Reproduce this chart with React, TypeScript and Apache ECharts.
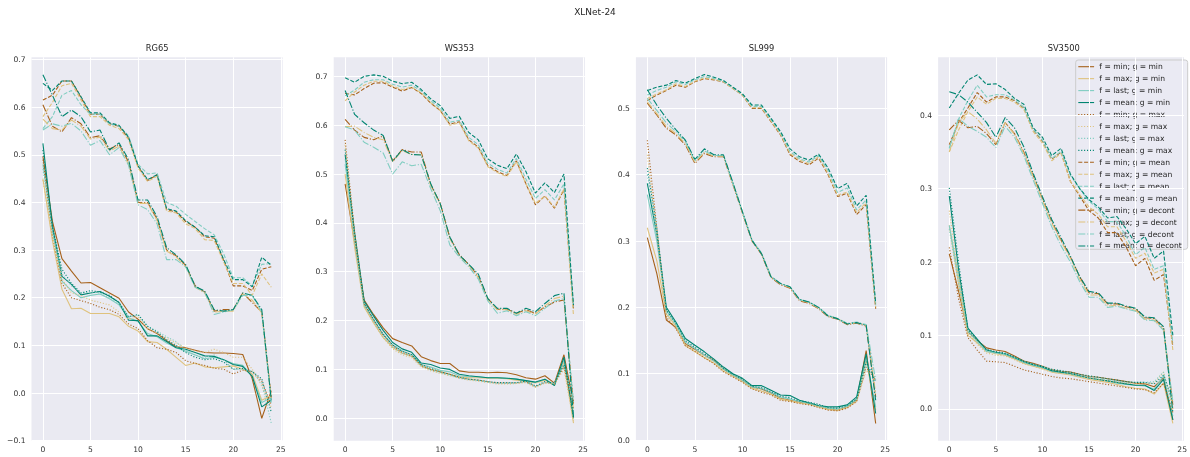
import React, { useEffect, useRef } from "react";
import * as echarts from "echarts";

const TITLE = "XLNet-24";
const PANELS = ["RG65", "WS353", "SL999", "SV3500"];
const LAYERS = [0, 1, 2, 3, 4, 5, 6, 7, 8, 9, 10, 11, 12, 13, 14, 15, 16, 17, 18, 19, 20, 21, 22, 23, 24];
const F_NAMES = ["min", "max", "last", "mean"];
const G_NAMES = ["min", "max", "mean", "decont"];
const X_TICKS = [0, 5, 10, 15, 20, 25];
const Y_TICKS = [
  [-0.1, 0, 0.1, 0.2, 0.3, 0.4, 0.5, 0.6, 0.7],
  [0, 0.1, 0.2, 0.3, 0.4, 0.5, 0.6, 0.7],
  [0, 0.1, 0.2, 0.3, 0.4, 0.5],
  [0, 0.1, 0.2, 0.3, 0.4],
];
const Y_RANGES = [
  [-0.1, 0.7046],
  [-0.046, 0.739],
  [-0.001, 0.577],
  [-0.0435, 0.479],
];

// each block: rows are f = min, max, last, mean
const RG65_G_MIN = [
  [0.497, 0.36, 0.282, 0.256, 0.231, 0.232, 0.221, 0.21, 0.199, 0.17, 0.155, 0.135, 0.125, 0.11, 0.097, 0.095, 0.09, 0.085, 0.084, 0.084, 0.083, 0.081, 0.03, -0.053, 0.005],
  [0.45, 0.32, 0.218, 0.177, 0.178, 0.167, 0.167, 0.167, 0.16, 0.14, 0.13, 0.108, 0.106, 0.092, 0.075, 0.058, 0.063, 0.055, 0.053, 0.055, 0.057, 0.05, 0.04, -0.015, -0.005],
  [0.48, 0.34, 0.235, 0.215, 0.2, 0.205, 0.208, 0.198, 0.185, 0.158, 0.15, 0.125, 0.118, 0.105, 0.095, 0.088, 0.08, 0.072, 0.075, 0.07, 0.062, 0.058, 0.035, -0.02, -0.01],
  [0.524, 0.35, 0.245, 0.228, 0.206, 0.21, 0.213, 0.203, 0.19, 0.153, 0.152, 0.12, 0.12, 0.108, 0.095, 0.092, 0.085, 0.078, 0.077, 0.07, 0.06, 0.056, 0.035, -0.029, -0.015],
];
const RG65_G_MAX = [
  [0.49, 0.33, 0.23, 0.2, 0.194, 0.188, 0.18, 0.175, 0.165, 0.145, 0.135, 0.11, 0.095, 0.092, 0.085, 0.068, 0.062, 0.058, 0.052, 0.05, 0.04, 0.048, 0.045, 0.025, -0.025],
  [0.447, 0.33, 0.24, 0.21, 0.205, 0.195, 0.19, 0.185, 0.17, 0.155, 0.16, 0.135, 0.125, 0.115, 0.105, 0.095, 0.088, 0.085, 0.092, 0.085, 0.075, 0.075, 0.05, 0.015, -0.03],
  [0.47, 0.34, 0.25, 0.225, 0.21, 0.212, 0.21, 0.2, 0.188, 0.16, 0.163, 0.14, 0.13, 0.118, 0.108, 0.09, 0.08, 0.075, 0.08, 0.07, 0.05, 0.05, 0.045, 0.02, -0.063],
  [0.51, 0.35, 0.26, 0.23, 0.21, 0.215, 0.212, 0.205, 0.19, 0.16, 0.165, 0.14, 0.128, 0.112, 0.1, 0.085, 0.075, 0.07, 0.072, 0.065, 0.05, 0.052, 0.045, 0.03, -0.04],
];
const RG65_G_MEAN = [
  [0.615, 0.625, 0.655, 0.655, 0.62, 0.585, 0.585, 0.565, 0.56, 0.535, 0.475, 0.446, 0.458, 0.385, 0.38, 0.36, 0.348, 0.328, 0.325, 0.278, 0.225, 0.225, 0.215, 0.26, 0.265],
  [0.58, 0.61, 0.645, 0.65, 0.615, 0.58, 0.58, 0.562, 0.555, 0.532, 0.472, 0.444, 0.455, 0.382, 0.378, 0.355, 0.345, 0.322, 0.32, 0.275, 0.23, 0.23, 0.205, 0.25, 0.222],
  [0.555, 0.58, 0.625, 0.635, 0.605, 0.585, 0.585, 0.565, 0.56, 0.54, 0.48, 0.46, 0.462, 0.4, 0.392, 0.375, 0.36, 0.345, 0.332, 0.292, 0.242, 0.242, 0.225, 0.27, 0.272],
  [0.65, 0.635, 0.655, 0.655, 0.622, 0.588, 0.588, 0.567, 0.562, 0.537, 0.477, 0.448, 0.458, 0.387, 0.382, 0.362, 0.348, 0.33, 0.328, 0.28, 0.238, 0.238, 0.223, 0.285, 0.268],
];
const RG65_G_DECONT = [
  [0.605, 0.56, 0.548, 0.578, 0.565, 0.536, 0.54, 0.512, 0.522, 0.485, 0.4, 0.4, 0.365, 0.3, 0.288, 0.268, 0.225, 0.212, 0.172, 0.175, 0.175, 0.21, 0.19, 0.17, -0.01],
  [0.575, 0.555, 0.552, 0.573, 0.56, 0.533, 0.537, 0.508, 0.518, 0.48, 0.398, 0.398, 0.362, 0.298, 0.286, 0.265, 0.222, 0.21, 0.17, 0.172, 0.172, 0.208, 0.195, 0.168, -0.012],
  [0.552, 0.565, 0.56, 0.566, 0.55, 0.52, 0.53, 0.5, 0.515, 0.478, 0.395, 0.385, 0.355, 0.28, 0.28, 0.265, 0.222, 0.212, 0.165, 0.17, 0.175, 0.205, 0.205, 0.17, -0.02],
  [0.668, 0.625, 0.58, 0.594, 0.58, 0.548, 0.552, 0.51, 0.525, 0.49, 0.405, 0.405, 0.37, 0.305, 0.29, 0.27, 0.224, 0.214, 0.175, 0.172, 0.175, 0.21, 0.205, 0.175, -0.015],
];

const WS353_G_MIN = [
  [0.48, 0.36, 0.242, 0.212, 0.185, 0.163, 0.155, 0.148, 0.126, 0.118, 0.112, 0.112, 0.097, 0.094, 0.094, 0.093, 0.094, 0.093, 0.089, 0.083, 0.08, 0.087, 0.072, 0.13, 0.03],
  [0.5, 0.35, 0.228, 0.195, 0.165, 0.145, 0.133, 0.127, 0.107, 0.1, 0.095, 0.09, 0.085, 0.083, 0.083, 0.082, 0.082, 0.081, 0.078, 0.076, 0.072, 0.078, 0.068, 0.115, -0.01],
  [0.52, 0.37, 0.232, 0.202, 0.172, 0.15, 0.138, 0.13, 0.11, 0.105, 0.098, 0.095, 0.087, 0.085, 0.085, 0.083, 0.083, 0.082, 0.08, 0.077, 0.073, 0.08, 0.068, 0.12, 0.01],
  [0.54, 0.38, 0.24, 0.209, 0.18, 0.155, 0.142, 0.135, 0.113, 0.11, 0.103, 0.1, 0.09, 0.087, 0.085, 0.083, 0.083, 0.082, 0.08, 0.077, 0.074, 0.08, 0.067, 0.125, 0.0],
];
const WS353_G_MAX = [
  [0.57, 0.38, 0.235, 0.2, 0.17, 0.148, 0.135, 0.128, 0.108, 0.1, 0.095, 0.09, 0.083, 0.08, 0.078, 0.075, 0.072, 0.072, 0.072, 0.075, 0.065, 0.073, 0.07, 0.105, 0.02],
  [0.56, 0.37, 0.23, 0.195, 0.165, 0.142, 0.13, 0.124, 0.105, 0.097, 0.092, 0.087, 0.082, 0.078, 0.076, 0.073, 0.07, 0.07, 0.071, 0.073, 0.063, 0.072, 0.07, 0.1, -0.005],
  [0.53, 0.36, 0.232, 0.198, 0.168, 0.146, 0.133, 0.127, 0.107, 0.099, 0.093, 0.088, 0.082, 0.079, 0.077, 0.074, 0.071, 0.071, 0.072, 0.074, 0.064, 0.073, 0.071, 0.108, 0.03],
  [0.55, 0.375, 0.236, 0.202, 0.172, 0.15, 0.137, 0.13, 0.11, 0.102, 0.095, 0.09, 0.084, 0.08, 0.078, 0.075, 0.073, 0.073, 0.073, 0.076, 0.066, 0.075, 0.072, 0.11, 0.04],
];
const WS353_G_MEAN = [
  [0.665, 0.662, 0.675, 0.686, 0.687, 0.678, 0.67, 0.677, 0.665, 0.645, 0.63, 0.602, 0.607, 0.57, 0.555, 0.517, 0.505, 0.497, 0.527, 0.48, 0.437, 0.455, 0.43, 0.468, 0.225],
  [0.65, 0.668, 0.682, 0.69, 0.69, 0.68, 0.673, 0.678, 0.666, 0.646, 0.63, 0.6, 0.605, 0.568, 0.553, 0.515, 0.503, 0.495, 0.525, 0.48, 0.44, 0.455, 0.432, 0.47, 0.21],
  [0.66, 0.672, 0.688, 0.693, 0.693, 0.684, 0.678, 0.682, 0.67, 0.65, 0.635, 0.606, 0.61, 0.575, 0.56, 0.522, 0.51, 0.502, 0.532, 0.49, 0.45, 0.468, 0.447, 0.48, 0.228],
  [0.697, 0.688, 0.7, 0.703, 0.7, 0.69, 0.685, 0.688, 0.673, 0.654, 0.64, 0.614, 0.618, 0.585, 0.57, 0.531, 0.518, 0.511, 0.541, 0.505, 0.461, 0.482, 0.462, 0.5, 0.232],
];
const WS353_G_DECONT = [
  [0.612, 0.59, 0.575, 0.57, 0.578, 0.527, 0.55, 0.545, 0.545, 0.478, 0.44, 0.37, 0.335, 0.315, 0.29, 0.245, 0.223, 0.223, 0.215, 0.222, 0.215, 0.228, 0.238, 0.242, 0.03],
  [0.597, 0.598, 0.585, 0.575, 0.57, 0.525, 0.548, 0.54, 0.54, 0.476, 0.438, 0.368, 0.333, 0.313, 0.288, 0.243, 0.222, 0.222, 0.213, 0.22, 0.213, 0.23, 0.245, 0.25, 0.015],
  [0.597, 0.59, 0.565, 0.555, 0.543, 0.5, 0.525, 0.517, 0.52, 0.47, 0.425, 0.355, 0.33, 0.31, 0.285, 0.24, 0.215, 0.22, 0.21, 0.218, 0.21, 0.225, 0.24, 0.245, 0.03],
  [0.671, 0.622, 0.605, 0.59, 0.579, 0.526, 0.55, 0.54, 0.539, 0.48, 0.439, 0.371, 0.334, 0.315, 0.295, 0.245, 0.225, 0.225, 0.215, 0.225, 0.218, 0.235, 0.251, 0.256, 0.002],
];

const SL999_G_MIN = [
  [0.305, 0.251, 0.181, 0.17, 0.145, 0.137, 0.128, 0.12, 0.107, 0.098, 0.09, 0.08, 0.077, 0.071, 0.063, 0.06, 0.057, 0.055, 0.051, 0.047, 0.045, 0.05, 0.06, 0.135, 0.025],
  [0.32, 0.27, 0.19, 0.172, 0.142, 0.133, 0.124, 0.116, 0.104, 0.096, 0.088, 0.078, 0.074, 0.069, 0.062, 0.059, 0.056, 0.054, 0.05, 0.046, 0.045, 0.049, 0.059, 0.12, 0.045],
  [0.37, 0.3, 0.195, 0.175, 0.148, 0.138, 0.128, 0.119, 0.107, 0.098, 0.09, 0.08, 0.078, 0.072, 0.065, 0.062, 0.058, 0.055, 0.051, 0.048, 0.047, 0.051, 0.062, 0.125, 0.05],
  [0.387, 0.31, 0.2, 0.178, 0.153, 0.143, 0.133, 0.122, 0.11, 0.1, 0.093, 0.082, 0.082, 0.075, 0.068, 0.067, 0.06, 0.056, 0.052, 0.05, 0.05, 0.053, 0.065, 0.13, 0.04],
];
const SL999_G_MAX = [
  [0.452, 0.32, 0.185, 0.168, 0.142, 0.134, 0.124, 0.115, 0.103, 0.095, 0.087, 0.077, 0.072, 0.068, 0.06, 0.058, 0.055, 0.053, 0.049, 0.045, 0.044, 0.048, 0.058, 0.11, 0.09],
  [0.43, 0.31, 0.188, 0.17, 0.144, 0.135, 0.126, 0.117, 0.105, 0.096, 0.088, 0.078, 0.074, 0.069, 0.061, 0.059, 0.056, 0.054, 0.05, 0.046, 0.045, 0.049, 0.058, 0.105, 0.095],
  [0.4, 0.31, 0.192, 0.173, 0.147, 0.138, 0.128, 0.119, 0.107, 0.098, 0.09, 0.08, 0.077, 0.071, 0.064, 0.062, 0.058, 0.056, 0.053, 0.048, 0.047, 0.051, 0.06, 0.115, 0.092],
  [0.41, 0.32, 0.196, 0.176, 0.15, 0.14, 0.13, 0.121, 0.108, 0.099, 0.092, 0.081, 0.079, 0.073, 0.066, 0.064, 0.059, 0.057, 0.054, 0.049, 0.048, 0.052, 0.062, 0.118, 0.088],
];
const SL999_G_MEAN = [
  [0.512, 0.52, 0.527, 0.535, 0.532, 0.54, 0.545, 0.543, 0.54, 0.53, 0.52, 0.5, 0.5, 0.48, 0.46, 0.43, 0.42, 0.415, 0.425, 0.4, 0.367, 0.372, 0.34, 0.355, 0.198],
  [0.515, 0.522, 0.528, 0.537, 0.533, 0.541, 0.546, 0.544, 0.54, 0.53, 0.52, 0.501, 0.501, 0.481, 0.461, 0.432, 0.422, 0.417, 0.427, 0.402, 0.369, 0.374, 0.343, 0.358, 0.2],
  [0.52, 0.527, 0.532, 0.54, 0.536, 0.543, 0.548, 0.545, 0.541, 0.531, 0.521, 0.503, 0.503, 0.483, 0.463, 0.435, 0.424, 0.419, 0.429, 0.406, 0.373, 0.38, 0.347, 0.362, 0.203],
  [0.527, 0.532, 0.535, 0.542, 0.538, 0.545, 0.551, 0.547, 0.542, 0.532, 0.522, 0.505, 0.505, 0.485, 0.465, 0.439, 0.427, 0.422, 0.431, 0.41, 0.379, 0.387, 0.353, 0.369, 0.206],
];
const SL999_G_DECONT = [
  [0.508, 0.49, 0.47, 0.46, 0.445, 0.417, 0.432, 0.427, 0.427, 0.385, 0.342, 0.3, 0.28, 0.245, 0.234, 0.229, 0.21, 0.206, 0.198, 0.186, 0.182, 0.174, 0.176, 0.172, 0.065],
  [0.51, 0.492, 0.473, 0.462, 0.447, 0.419, 0.434, 0.428, 0.428, 0.386, 0.343, 0.301, 0.281, 0.246, 0.235, 0.23, 0.211, 0.207, 0.199, 0.187, 0.183, 0.175, 0.177, 0.173, 0.07],
  [0.515, 0.497, 0.478, 0.465, 0.45, 0.421, 0.436, 0.429, 0.429, 0.387, 0.344, 0.302, 0.282, 0.247, 0.236, 0.231, 0.212, 0.208, 0.2, 0.188, 0.183, 0.176, 0.178, 0.174, 0.09],
  [0.528, 0.505, 0.485, 0.468, 0.452, 0.423, 0.439, 0.43, 0.43, 0.388, 0.344, 0.301, 0.281, 0.246, 0.236, 0.231, 0.212, 0.208, 0.2, 0.187, 0.183, 0.175, 0.177, 0.173, 0.06],
];

const SV3500_G_MIN = [
  [0.211, 0.16, 0.105, 0.093, 0.083, 0.08, 0.078, 0.072, 0.065, 0.062, 0.058, 0.053, 0.051, 0.05, 0.047, 0.044, 0.043, 0.041, 0.039, 0.037, 0.035, 0.034, 0.03, 0.042, -0.015],
  [0.25, 0.17, 0.1, 0.09, 0.078, 0.075, 0.073, 0.068, 0.062, 0.058, 0.055, 0.05, 0.048, 0.046, 0.043, 0.04, 0.038, 0.036, 0.033, 0.03, 0.028, 0.027, 0.02, 0.035, -0.02],
  [0.25, 0.18, 0.106, 0.092, 0.078, 0.076, 0.074, 0.069, 0.063, 0.059, 0.056, 0.051, 0.049, 0.047, 0.044, 0.042, 0.04, 0.038, 0.035, 0.033, 0.032, 0.031, 0.027, 0.045, -0.01],
  [0.29, 0.19, 0.11, 0.095, 0.08, 0.077, 0.075, 0.07, 0.064, 0.06, 0.057, 0.052, 0.05, 0.048, 0.045, 0.042, 0.04, 0.038, 0.036, 0.034, 0.032, 0.032, 0.025, 0.04, -0.015],
];
const SV3500_G_MAX = [
  [0.22, 0.15, 0.097, 0.08, 0.065, 0.064, 0.063, 0.058, 0.053, 0.05, 0.047, 0.044, 0.042, 0.041, 0.039, 0.037, 0.035, 0.033, 0.031, 0.029, 0.027, 0.026, 0.022, 0.035, -0.005],
  [0.27, 0.18, 0.103, 0.088, 0.076, 0.073, 0.072, 0.067, 0.061, 0.058, 0.054, 0.05, 0.048, 0.047, 0.044, 0.042, 0.04, 0.038, 0.036, 0.035, 0.034, 0.034, 0.035, 0.05, 0.0],
  [0.245, 0.17, 0.105, 0.091, 0.079, 0.076, 0.075, 0.07, 0.064, 0.06, 0.057, 0.053, 0.051, 0.049, 0.046, 0.044, 0.042, 0.04, 0.038, 0.036, 0.036, 0.036, 0.037, 0.05, 0.005],
  [0.301, 0.2, 0.108, 0.094, 0.081, 0.078, 0.076, 0.071, 0.065, 0.061, 0.058, 0.054, 0.052, 0.05, 0.047, 0.045, 0.043, 0.041, 0.039, 0.037, 0.036, 0.036, 0.034, 0.046, 0.01],
];
const SV3500_G_MEAN = [
  [0.36, 0.39, 0.41, 0.431, 0.418, 0.425, 0.425, 0.42, 0.41, 0.38, 0.365, 0.34, 0.35, 0.31, 0.29, 0.27, 0.26, 0.24, 0.24, 0.22, 0.195, 0.205, 0.175, 0.183, 0.085],
  [0.35, 0.38, 0.405, 0.425, 0.415, 0.423, 0.423, 0.418, 0.408, 0.378, 0.362, 0.338, 0.348, 0.31, 0.292, 0.275, 0.265, 0.248, 0.248, 0.228, 0.205, 0.212, 0.185, 0.19, 0.08],
  [0.355, 0.395, 0.42, 0.441, 0.425, 0.428, 0.428, 0.421, 0.411, 0.381, 0.366, 0.341, 0.351, 0.318, 0.3, 0.283, 0.272, 0.255, 0.255, 0.235, 0.21, 0.22, 0.19, 0.195, 0.09],
  [0.41, 0.43, 0.448, 0.455, 0.442, 0.443, 0.435, 0.423, 0.415, 0.383, 0.37, 0.345, 0.355, 0.32, 0.3, 0.285, 0.275, 0.26, 0.262, 0.245, 0.225, 0.235, 0.205, 0.215, 0.1],
];
const SV3500_G_DECONT = [
  [0.38, 0.393, 0.383, 0.385, 0.375, 0.36, 0.39, 0.375, 0.35, 0.318, 0.286, 0.255, 0.23, 0.207, 0.18, 0.158, 0.157, 0.143, 0.143, 0.139, 0.136, 0.124, 0.123, 0.11, 0.005],
  [0.35, 0.39, 0.405, 0.395, 0.38, 0.362, 0.39, 0.374, 0.348, 0.316, 0.284, 0.253, 0.228, 0.205, 0.177, 0.155, 0.155, 0.14, 0.141, 0.137, 0.134, 0.122, 0.121, 0.108, 0.0],
  [0.355, 0.396, 0.385, 0.378, 0.37, 0.356, 0.385, 0.37, 0.345, 0.312, 0.28, 0.248, 0.222, 0.2, 0.173, 0.152, 0.152, 0.138, 0.14, 0.136, 0.133, 0.121, 0.12, 0.107, 0.01],
  [0.432, 0.428, 0.418, 0.404, 0.39, 0.37, 0.397, 0.383, 0.357, 0.321, 0.289, 0.258, 0.233, 0.208, 0.18, 0.16, 0.158, 0.144, 0.144, 0.14, 0.137, 0.125, 0.124, 0.112, -0.005],
];

const PANEL_DATA = [
  [RG65_G_MIN, RG65_G_MAX, RG65_G_MEAN, RG65_G_DECONT],
  [WS353_G_MIN, WS353_G_MAX, WS353_G_MEAN, WS353_G_DECONT],
  [SL999_G_MIN, SL999_G_MAX, SL999_G_MEAN, SL999_G_DECONT],
  [SV3500_G_MIN, SV3500_G_MAX, SV3500_G_MEAN, SV3500_G_DECONT],
];

const F_COLORS = ["#a6611a", "#dfc27d", "#80cdc1", "#018571"];
const G_DASH: (string | number[])[] = ["solid", [1.1, 1.8], [4, 1.8], [7, 1.8, 1.1, 1.8]];

const FONT = "DejaVu Sans";
const GRID_LEFT0 = 31.5;
const GRID_STEP = 302.2;
const GRID_W = 251.2;
const GRID_TOP = 57.3;
const GRID_H = 383.4;

// legend box
const LEG_X = 1075.7;
const LEG_Y = 60;
const LEG_W = 112;
const LEG_H = 189.3;
const LEG_ROW0 = 66.7;
const LEG_PITCH = 11.95;

export default function App() {
  const ref = useRef<HTMLDivElement>(null);
  useEffect(() => {
    if (!ref.current) return;
    const chart = echarts.init(ref.current, undefined, { renderer: "svg" });
    const grids: any[] = [];
    const xAxes: any[] = [];
    const yAxes: any[] = [];
    const series: any[] = [];
    const graphics: any[] = [
      {
        type: "text",
        x: 595,
        y: 12,
        style: { text: TITLE, font: `9px "${FONT}"`, fill: "#262626", textAlign: "center", textVerticalAlign: "middle" },
      },
    ];
    PANELS.forEach((p, pi) => {
      const left = GRID_LEFT0 + pi * GRID_STEP;
      grids.push({
        left,
        top: GRID_TOP,
        width: GRID_W,
        height: GRID_H,
        show: true,
        backgroundColor: "#EAEAF2",
        borderWidth: 0,
        containLabel: false,
      });
      graphics.push({
        type: "text",
        x: left + GRID_W / 2,
        y: 48,
        style: { text: p, font: `8.3px "${FONT}"`, fill: "#262626", textAlign: "center", textVerticalAlign: "middle" },
      });
      xAxes.push({
        type: "value",
        gridIndex: pi,
        min: -1.2,
        max: 25.2,
        axisLine: { show: false },
        axisTick: { show: false, customValues: X_TICKS },
        axisLabel: { customValues: X_TICKS, fontSize: 7.6, fontFamily: FONT, color: "#333", margin: 5 },
        splitLine: { show: true, lineStyle: { color: "#ffffff", width: 1 } },
      });
      yAxes.push({
        type: "value",
        gridIndex: pi,
        min: Y_RANGES[pi][0],
        max: Y_RANGES[pi][1],
        axisLine: { show: false },
        axisTick: { show: false, customValues: Y_TICKS[pi] },
        axisLabel: {
          customValues: Y_TICKS[pi],
          fontSize: 7.6,
          fontFamily: FONT,
          color: "#333",
          margin: 6,
          formatter: (v: number) => (Math.abs(v) < 1e-9 ? "0.0" : v < 0 ? "\u2212" + Math.abs(v).toFixed(1) : v.toFixed(1)),
        },
        splitLine: { show: true, lineStyle: { color: "#ffffff", width: 1 } },
      });
      G_NAMES.forEach((g, gi) => {
        F_NAMES.forEach((f, fi) => {
          const vals = PANEL_DATA[pi][gi][fi];
          series.push({
            type: "line",
            name: `f = ${f}; g = ${g}`,
            xAxisIndex: pi,
            yAxisIndex: pi,
            data: LAYERS.map((x, i) => [x, vals[i]]),
            symbol: "none",
            showSymbol: false,
            silent: true,
            lineStyle: { color: F_COLORS[fi], width: 1.1, type: G_DASH[gi] },
            itemStyle: { color: F_COLORS[fi] },
            emphasis: { disabled: true },
          });
        });
      });
    });

    // custom legend (lines keep their dash pattern, no markers)
    const legendChildren: any[] = [
      {
        type: "rect",
        shape: { x: LEG_X, y: LEG_Y, width: LEG_W, height: LEG_H, r: 2.5 },
        style: { fill: "rgba(234,234,242,0.8)", stroke: "#cccccc", lineWidth: 1 },
      },
    ];
    let row = 0;
    G_NAMES.forEach((g, gi) => {
      F_NAMES.forEach((f, fi) => {
        const y = LEG_ROW0 + row * LEG_PITCH;
        const dash = G_DASH[gi];
        legendChildren.push({
          type: "line",
          shape: { x1: LEG_X + 2.6, y1: y, x2: LEG_X + 18.4, y2: y },
          style: {
            stroke: F_COLORS[fi],
            lineWidth: 1.1,
            lineDash: Array.isArray(dash) ? dash : null,
          },
        });
        legendChildren.push({
          type: "text",
          x: LEG_X + 23.6,
          y,
          style: {
            text: `f = ${f}; g = ${g}`,
            font: `7.6px "${FONT}"`,
            fill: "#262626",
            textAlign: "left",
            textVerticalAlign: "middle",
          },
        });
        row++;
      });
    });
    graphics.push({ type: "group", z: 100, silent: true, children: legendChildren });

    chart.setOption({
      animation: false,
      grid: grids,
      xAxis: xAxes,
      yAxis: yAxes,
      series,
      graphic: graphics,
    });
    return () => chart.dispose();
  }, []);
  return <div ref={ref} style={{ position: "fixed", left: 0, top: 0, width: 1190, height: 457 }} />;
}
